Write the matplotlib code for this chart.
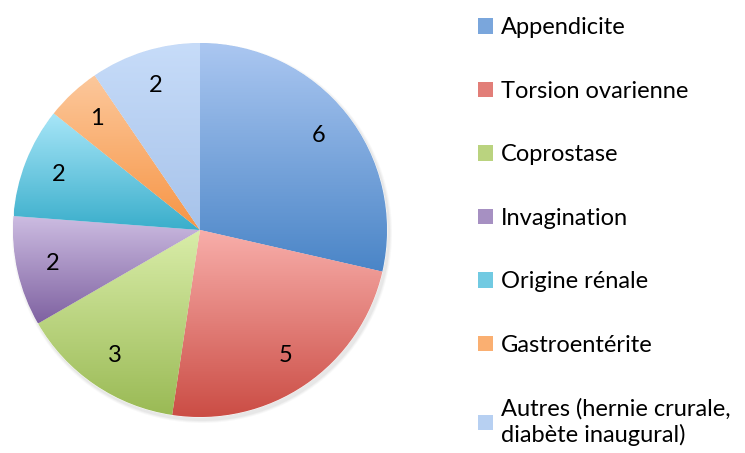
import numpy as np
import matplotlib
matplotlib.use("Agg")
import matplotlib.pyplot as plt
from matplotlib.colors import to_rgb
from matplotlib.patches import Patch, Circle

plt.rcParams['font.family'] = ['Lato', 'DejaVu Sans']

# data
categories = ["Appendicite", "Torsion ovarienne", "Coprostase", "Invagination",
              "Origine rénale", "Gastroentérite",
              "Autres (hernie crurale,\ndiabète inaugural)"]
counts = [6, 5, 3, 2, 2, 1, 2]
top_colors = ["#abc7f1", "#f8aeaa", "#d9eda9", "#cdbde2", "#a8e6f8", "#fcc89c", "#c7dcf9"]
bottom_colors = ["#4a85c7", "#cb4d45", "#9aba55", "#7f62a1", "#3aaecb", "#f79545", "#a7c3ea"]

W, H = 745, 453
fig = plt.figure(figsize=(W / 100, H / 100), dpi=100)
ax = fig.add_axes([0, 0, 1, 1])
ax.set_xlim(0, W)
ax.set_ylim(0, H)
ax.set_aspect('equal')
ax.axis('off')

cx, cy, R = 200, H - 230, 187

# faint shadow
for k, a in [(6, 0.05), (4, 0.06), (2, 0.08)]:
    ax.add_patch(Circle((cx + 2, cy - 3), R + k * 0.5, color='#808080', alpha=a, lw=0, zorder=0))

wedges, texts = ax.pie(counts, labels=[str(c) for c in counts], startangle=90,
                       counterclock=False, center=(cx, cy), radius=R,
                       labeldistance=0.81, frame=True,
                       wedgeprops=dict(linewidth=0.6, edgecolor='white'),
                       textprops=dict(fontsize=17, color='black', ha='center', va='center'))
ax.set_xlim(0, W)
ax.set_ylim(0, H)
ax.axis('off')

for w, c1, c2 in zip(wedges, top_colors, bottom_colors):
    th = np.radians(np.linspace(w.theta1, w.theta2, 200))
    xs = np.concatenate([[cx], cx + R * np.cos(th)])
    ys = np.concatenate([[cy], cy + R * np.sin(th)])
    y0, y1 = ys.min(), ys.max()
    x0, x1 = xs.min(), xs.max()
    t = np.linspace(0, 1, 256)[:, None]
    grad = (1 - t) * np.array(to_rgb(c1)) + t * np.array(to_rgb(c2))
    img = ax.imshow(grad[:, None, :], extent=(x0, x1, y0, y1), origin='upper',
                    aspect='auto', zorder=w.get_zorder() + 0.1, interpolation='bilinear')
    img.set_clip_path(w)
    w.set_facecolor(c2)

for t in texts:
    t.set_zorder(5)

handles = [Patch(facecolor=(np.array(to_rgb(a)) + np.array(to_rgb(b))) / 2, edgecolor='none')
           for a, b in zip(top_colors, bottom_colors)]
leg = ax.legend(handles, categories, loc='upper left', bbox_to_anchor=(469 / W, 1 - 8 / H),
                frameon=False, fontsize=17, handlelength=0.62, handleheight=0.62,
                handletextpad=0.33, labelspacing=1.8, borderaxespad=0)

fig.savefig("out.png", dpi=100)
